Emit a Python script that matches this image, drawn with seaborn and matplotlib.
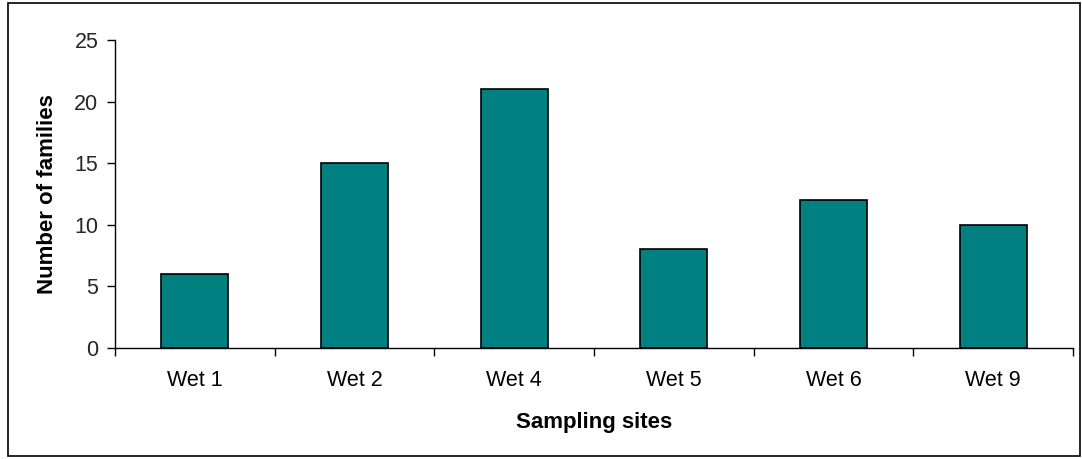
import matplotlib
matplotlib.use("Agg")
import matplotlib.pyplot as plt
from matplotlib.patches import Rectangle
import numpy as np
import pandas as pd
import seaborn as sns

sites = ["Wet 1", "Wet 2", "Wet 4", "Wet 5", "Wet 6", "Wet 9"]
families = [6, 15, 21, 8, 12, 10]

sns.set_theme(style="white")
plt.rcParams["font.family"] = ["Liberation Sans", "DejaVu Sans"]

df = pd.DataFrame({"site": sites, "families": families})

fig = plt.figure(figsize=(10.82, 4.59), dpi=100)
ax = fig.add_axes([115 / 1082, 1 - 348 / 459, (1073 - 115) / 1082, (348 - 40) / 459])

sns.barplot(data=df, x="site", y="families", color="#008080", saturation=1,
            edgecolor="black", linewidth=1.2, width=0.42, ax=ax)

ax.set_xlim(-0.5, len(sites) - 0.5)
ax.set_ylim(0, 25)
ax.set_yticks(np.arange(0, 26, 5))
ax.set_xticks(np.arange(-0.5, len(sites), 1), minor=True)
ax.tick_params(axis="x", which="major", length=0, pad=16, labelsize=15.5, colors="black")
ax.tick_params(axis="x", which="minor", length=6, width=1, direction="out", color="black", bottom=True)
ax.tick_params(axis="y", length=6, width=1, direction="out", color="black", left=True, labelsize=15.5, pad=6)

for side in ["top", "right"]:
    ax.spines[side].set_visible(False)
for side in ["left", "bottom"]:
    ax.spines[side].set_color("black")
    ax.spines[side].set_linewidth(1)

ax.set_xlabel("Sampling sites", fontsize=16, fontweight="bold", labelpad=15, color="black")
ax.set_ylabel("Number of families", fontsize=16, fontweight="bold", labelpad=12, color="black")

fig.patches.append(Rectangle((8 / 1082, 1 - 456 / 459), (1080 - 8) / 1082, (456 - 3) / 459,
                             transform=fig.transFigure, fill=False, edgecolor="black",
                             linewidth=1.2))

fig.savefig("out.png", dpi=100)
